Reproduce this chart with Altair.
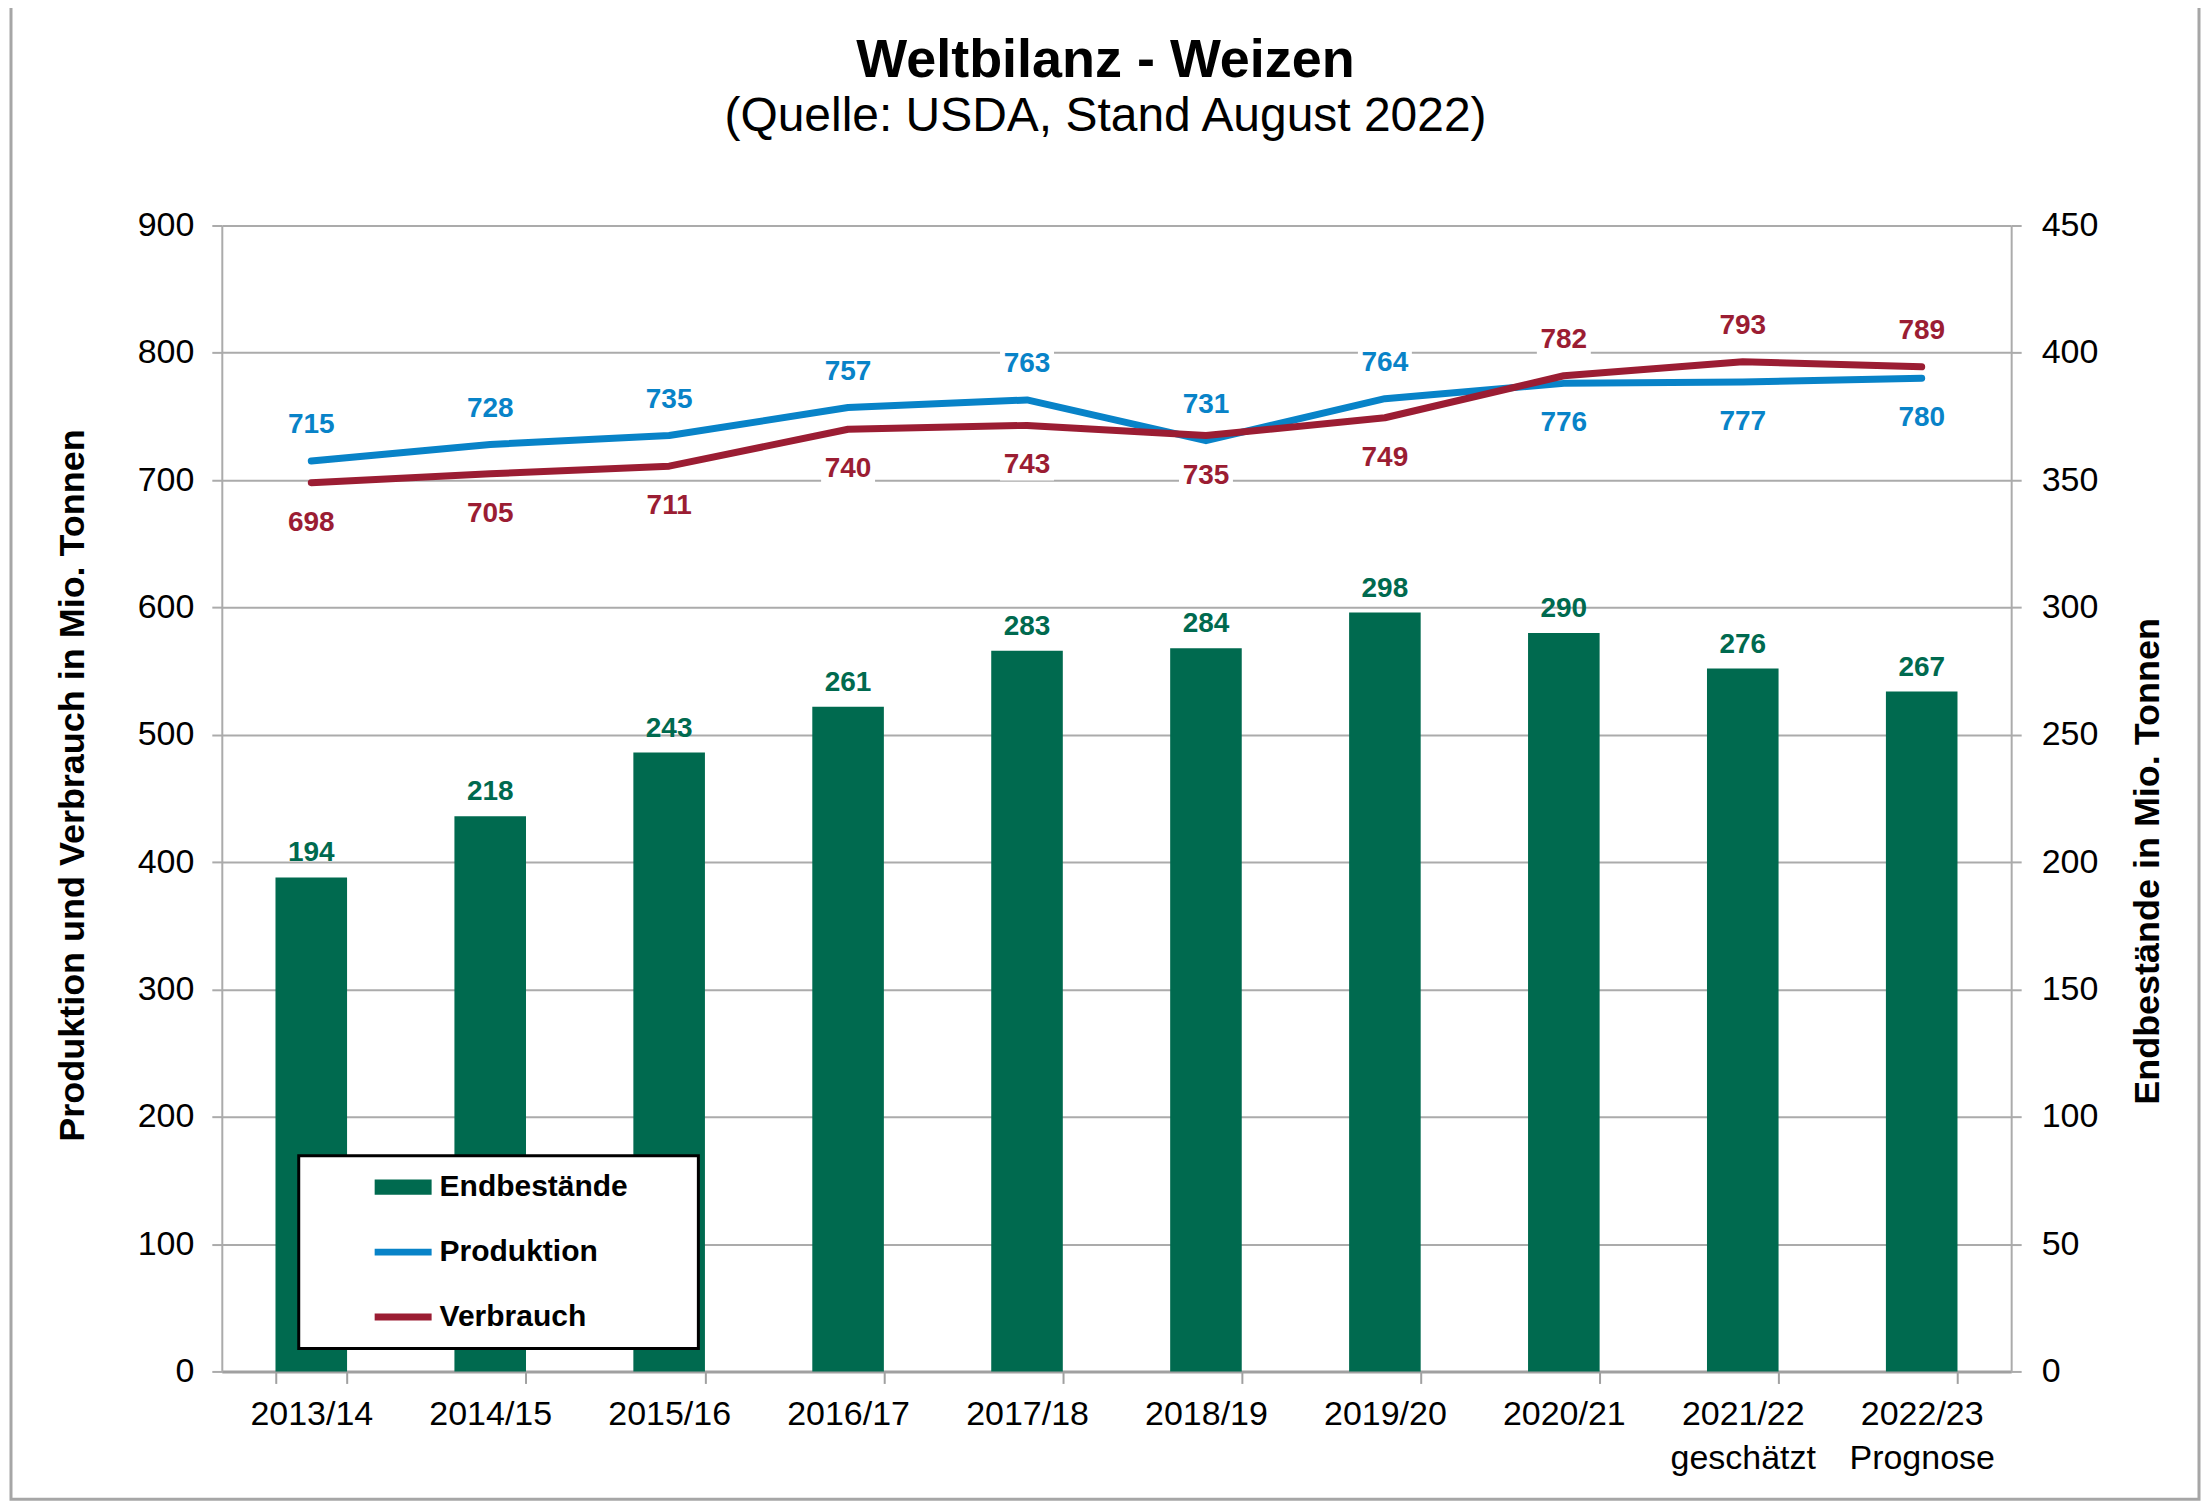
import altair as alt
import pandas as pd

# ---------------- data ----------------
years = ["2013/14", "2014/15", "2015/16", "2016/17", "2017/18",
         "2018/19", "2019/20", "2020/21", "2021/22", "2022/23"]
year_notes = ["", "", "", "", "", "", "", "", "geschätzt", "Prognose"]
endbestaende = [194, 218, 243, 261, 283, 284, 298, 290, 276, 267]
produktion = [715, 728, 735, 757, 763, 731, 764, 776, 777, 780]
verbrauch = [698, 705, 711, 740, 743, 735, 749, 782, 793, 789]
prod_label_side = ["above"] * 7 + ["below"] * 3
verb_label_side = ["below"] * 7 + ["above"] * 3
series_names = ["Endbestände", "Produktion", "Verbrauch"]

# ---------------- styles ----------------
GREEN = "#006A4F"
BLUE = "#0883C8"
RED = "#9B1D33"
GRID = "#ABABAB"
FONT = "Liberation Sans"
W, H = 1791, 1147

cats = [y + ("\n" + n if n else "") for y, n in zip(years, year_notes)]

bars_df = pd.DataFrame({"cat": cats, "value": endbestaende})
prod_df = pd.DataFrame({"cat": cats, "value": produktion, "side": prod_label_side})
verb_df = pd.DataFrame({"cat": cats, "value": verbrauch, "side": verb_label_side})
legend_df = pd.DataFrame({"series": series_names})

x_enc = alt.X(
    "cat:N", sort=cats,
    scale=alt.Scale(paddingInner=0.6, paddingOuter=0.3),
    axis=alt.Axis(
        title=None, labelAngle=0, labelFontSize=34, labelColor="black", labelFont=FONT,
        labelPadding=14, labelLineHeight=44, labelBaseline="top",
        labelExpr="split(datum.label, '\\n')",
        domainColor="#A0A0A0", domainWidth=3, tickColor="#A0A0A0", tickWidth=2,
        tickSize=12, tickBand="extent", grid=False,
    ),
)
x_plain = alt.X("cat:N", sort=cats)

# right axis (Endbestände)
right_scale = alt.Scale(domain=[0, 450], nice=False)
y_right = alt.Y(
    "value:Q", scale=right_scale,
    axis=alt.Axis(
        orient="right", values=list(range(0, 451, 50)), grid=False,
        domainColor=GRID, domainWidth=2, tickColor=GRID, tickWidth=2, tickSize=10,
        labelFontSize=34, labelColor="black", labelFont=FONT, labelPadding=20,
        title="Endbestände in Mio. Tonnen", titleFontSize=36, titleFontWeight="bold",
        titleFont=FONT, titleColor="black", titleAngle=270, titlePadding=69,
        titleY=636,
    ),
)
y_right_plain = alt.Y("value:Q", scale=right_scale)

bars = alt.Chart(bars_df).mark_bar(color=GREEN).encode(x=x_enc, y=y_right)
bar_text = alt.Chart(bars_df).mark_text(
    color=GREEN, fontSize=28, fontWeight="bold", font=FONT, baseline="alphabetic", dy=-16
).encode(x=x_plain, y=y_right_plain, text="value:Q")
bar_group = alt.layer(bars, bar_text)

# left axis (Produktion / Verbrauch)
left_scale = alt.Scale(domain=[0, 900], nice=False)
y_left = alt.Y(
    "value:Q", scale=left_scale,
    axis=alt.Axis(
        orient="left", values=list(range(0, 901, 100)), grid=True,
        gridColor=GRID, gridWidth=2,
        domainColor=GRID, domainWidth=2, tickColor=GRID, tickWidth=2, tickSize=10,
        labelFontSize=34, labelColor="black", labelFont=FONT, labelPadding=18,
        title="Produktion und Verbrauch in Mio. Tonnen", titleFontSize=36,
        titleFontWeight="bold", titleFont=FONT, titleColor="black", titlePadding=46,
        titleY=560,
    ),
)
y_left_plain = alt.Y("value:Q", scale=left_scale)

prod_line = alt.Chart(prod_df).mark_line(color=BLUE, strokeWidth=7, strokeCap="round",
                                         strokeJoin="round").encode(x=x_plain, y=y_left)
verb_line = alt.Chart(verb_df).mark_line(color=RED, strokeWidth=7, strokeCap="round",
                                         strokeJoin="round").encode(x=x_plain, y=y_left_plain)

BOX = "M-1,-0.56H1V0.56H-1Z"


def label_layers(df, color):
    layers = []
    for side, off in (("above", -36), ("below", 40)):
        base = alt.Chart(df).transform_filter(alt.datum.side == side)
        layers.append(base.mark_point(shape=BOX, filled=True, fill="white", opacity=1,
                                      strokeWidth=0, size=2916, yOffset=off)
                      .encode(x=x_plain, y=y_left_plain))
        layers.append(base.mark_text(color=color, fontSize=28, fontWeight="bold", font=FONT,
                                     baseline="middle", dy=off)
                      .encode(x=x_plain, y=y_left_plain, text="value:Q"))
    return layers


# legend symbol shapes; the trailing moves only widen the legend box (nothing drawn)
PAD_MOVES = "M10.25,-1M10.25,1"
legend_shapes = ["M-1,-0.27H1V0.27H-1Z" + PAD_MOVES,
                 "M-1,-0.12H1V0.12H-1Z" + PAD_MOVES,
                 "M-1,-0.12H1V0.12H-1Z" + PAD_MOVES]

# legend only (no visible points: data filtered away, domain given explicitly)
legend_layer = alt.Chart(legend_df).transform_filter("false").mark_point(
    filled=True, opacity=1
).encode(
    color=alt.Color("series:N", sort=series_names,
                    scale=alt.Scale(domain=series_names, range=[GREEN, BLUE, RED]),
                    legend=alt.Legend(
                        title=None, orient="none", legendX=77, legendY=931,
                        fillColor="white", strokeColor="black",
                        padding=3, rowPadding=8, symbolOffset=73, labelOffset=8,
                        symbolSize=3249, symbolOpacity=1, symbolStrokeWidth=0,
                        labelFontSize=30, labelFontWeight="bold", labelFont=FONT,
                        labelColor="black", labelLimit=400)),
    shape=alt.Shape("series:N", sort=series_names,
                    scale=alt.Scale(domain=series_names, range=legend_shapes)),
)

line_group = alt.layer(prod_line, verb_line,
                       *label_layers(prod_df, BLUE), *label_layers(verb_df, RED),
                       legend_layer)

border = alt.Chart(pd.DataFrame({"a": [0]})).mark_rect(
    fill=None, stroke="#A6A6A6", strokeWidth=3
).encode(x=alt.value(-211), x2=alt.value(1979), y=alt.value(-222), y2=alt.value(1275))

chart = alt.layer(bar_group, line_group, border).resolve_scale(
    y="independent"
).properties(
    width=W, height=H,
    padding={"left": 214, "top": 217, "right": 190, "bottom": 130},
    autosize=alt.AutoSizeParams(type="none"),
    title=alt.TitleParams(
        text="Weltbilanz - Weizen", subtitle="(Quelle:  USDA, Stand August 2022)",
        font=FONT, fontSize=54, fontWeight="bold", color="black",
        subtitleFont=FONT, subtitleFontSize=48, subtitleColor="black",
        subtitlePadding=5, anchor="middle", frame="group", dx=-11, offset=-139,
    ),
).configure_view(stroke=None).configure_legend(strokeWidth=3)

chart.save("out.html", embed_options={"renderer": "svg", "actions": False})
